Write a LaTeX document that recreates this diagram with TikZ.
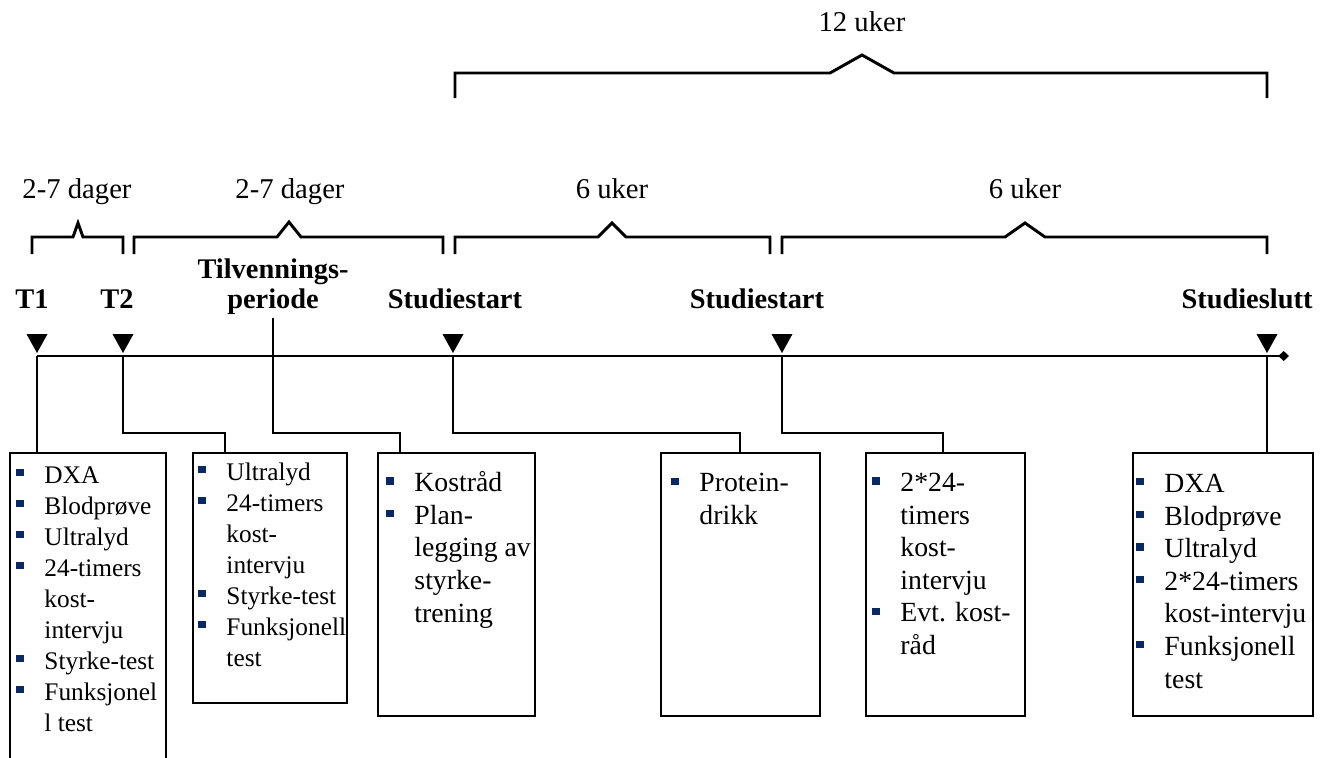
\documentclass[tikz,border=0pt]{standalone}
\usepackage{fontspec}
\setmainfont{Liberation Serif}
\usetikzlibrary{arrows.meta,fit}
\definecolor{bulletnavy}{RGB}{10,40,100}

% bullet and hanging indent for the box lists
\newcommand\bulpt{\makebox[21pt][l]{\textcolor{bulletnavy}{\rule[5.5pt]{5.8pt}{5.3pt}}}}
\newcommand\bulskip{\hspace*{21pt}}
% x1, x2, peak x, peak half width, peak height, y, drop
\newcommand\spanbrace[7]{%
  \draw (#1,#6+#7) -- (#1,#6) -- (#3-#4,#6) -- (#3,#6-#5) -- (#3+#4,#6) -- (#2,#6) -- (#2,#6+#7);}

\begin{document}
\begin{tikzpicture}[x=0.75pt, y=-0.75pt, line width=2.2pt,
    panel/.style={draw, inner sep=0pt, outer sep=0pt},
    boxtext/.style={anchor=base west, inner sep=0pt, align=left, font=\fontsize{20.8}{24.4}\selectfont},
    boxsmall/.style={boxtext, font=\fontsize{19}{23.25}\selectfont},
    event/.style={anchor=base, inner sep=2pt, font=\fontsize{21.3}{22.5}\selectfont\bfseries},
    durlabel/.style={anchor=base, inner sep=2pt, font=\fontsize{21.5}{24}\selectfont}]
    \useasboundingbox (0,0) rectangle (1327,757);

    % durations
    \node[durlabel] (dur12) at (862,31) {12 uker};
    \node[durlabel] (dur1) at (77,198) {2-7 dager};
    \node[durlabel] (dur2) at (290,198) {2-7 dager};
    \node[durlabel] (dur3) at (612,198) {6 uker};
    \node[durlabel] (dur4) at (1025,198) {6 uker};
    \spanbrace{455}{1267}{862}{32}{18}{73}{25}
    \spanbrace{32}{123}{78}{5}{14}{237}{17}
    \spanbrace{134}{443}{289}{12}{15}{237}{17}
    \spanbrace{455}{770}{612}{14}{14}{237}{17}
    \spanbrace{782}{1267}{1025}{20}{14}{237}{17}

    % events (multi-line nodes sit on their last line)
    \node[event] (lT1) at (32,308) {T1};
    \node[event] (lT2) at (117,308) {T2};
    \node[event, align=center] (tilv) at (273,308) {Tilvennings-\\periode};
    \node[event] (lS1) at (455,308) {Studiestart};
    \node[event] (lS2) at (757,308) {Studiestart};
    \node[event] (lSe) at (1247,308) {Studieslutt};

    \coordinate (eT1) at (37,356);
    \coordinate (eT2) at (123,356);
    \coordinate (eS1) at (453,356);
    \coordinate (eS2) at (782,356);
    \coordinate (eEnd) at (1267,356);
    \coordinate (tEnd) at (1289,356);
    \foreach \x in {37,123,453,782,1267}
        \fill (\x-10.5,334) -- (\x+10.5,334) -- (\x,353) -- cycle;
    \draw[-{Diamond[length=8pt,width=7.5pt]}] (eT1) -- (tEnd);

    % boxes
    \node[panel, fit={(10,453) (166,790)}] (box1) {};
    \node[panel, fit={(193,453) (347,703)}] (box2) {};
    \node[panel, fit={(378,453) (535,716)}] (box3) {};
    \node[panel, fit={(661,453) (820,716)}] (box4) {};
    \node[panel, fit={(866,453) (1025,716)}] (box5) {};
    \node[panel, fit={(1133,453) (1313,716)}] (box6) {};

    \node[boxsmall] (txt1) at (15,731) {\bulpt DXA\\\bulpt Blodprøve\\\bulpt Ultralyd\\\bulpt 24-timers\\\bulskip kost-\\\bulskip intervju\\\bulpt Styrke-test\\\bulpt Funksjonel\\\bulskip l test};
    \node[boxsmall] (txt2) at (197,666) {\bulpt Ultralyd\\\bulpt 24-timers\\\bulskip kost-\\\bulskip intervju\\\bulpt Styrke-test\\\bulpt Funksjonell\\\bulskip test};
    \node[boxtext] (txt3) at (385,622) {\bulpt Kostråd\\\bulpt Plan-\\\bulskip legging av\\\bulskip styrke-\\\bulskip trening};
    \node[boxtext] (txt4) at (670,524.5) {\bulpt Protein-\\\bulskip drikk};
    \node[boxtext] (txt5) at (871,654.5) {\bulpt 2*24-\\\bulskip timers\\\bulskip kost-\\\bulskip intervju\\\bulpt Evt. kost-\\\bulskip råd};
    \node[boxtext] (txt6) at (1135,688) {\bulpt DXA\\\bulpt Blodprøve\\\bulpt Ultralyd\\\bulpt 2*24-timers\\\bulskip kost-intervju\\\bulpt Funksjonell\\\bulskip test};

    % connectors
    \coordinate (d2) at (225,433);
    \coordinate (d3) at (400,433);
    \coordinate (d4) at (740,433);
    \coordinate (d5) at (943,433);
    \draw (eT1) -- (eT1 |- box1.north);
    \draw (eT2) |- (d2) -- (d2 |- box2.north);
    \draw (tilv.south) |- (d3) -- (d3 |- box3.north);
    \draw (eS1) |- (d4) -- (d4 |- box4.north);
    \draw (eS2) |- (d5) -- (d5 |- box5.north);
    \draw (eEnd) -- (eEnd |- box6.north);
\end{tikzpicture}
\end{document}
